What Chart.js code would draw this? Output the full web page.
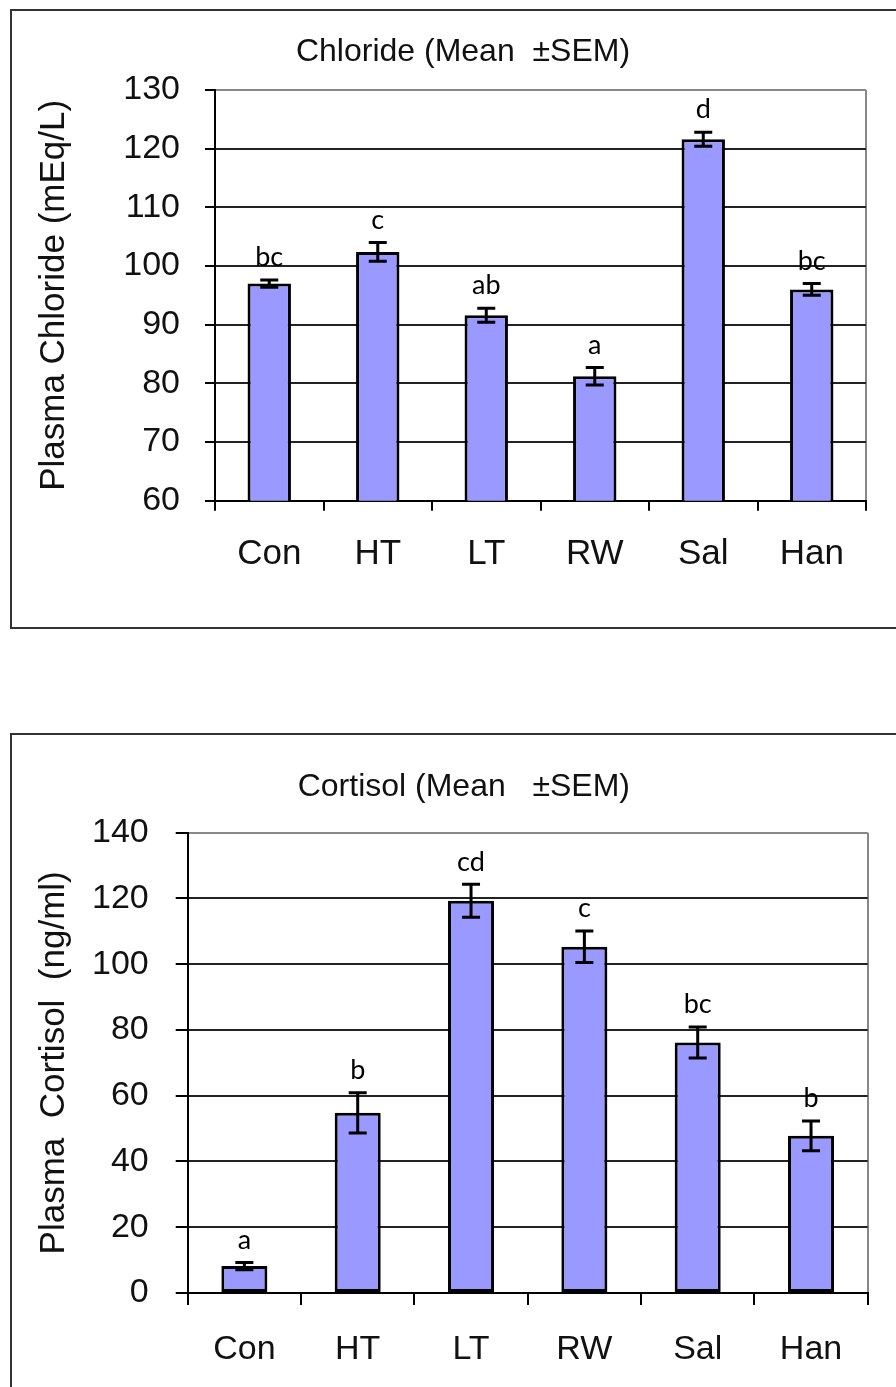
<!DOCTYPE html>
<html>
<head>
<meta charset="utf-8">
<script src="https://cdn.jsdelivr.net/npm/chart.js@4.4.0/dist/chart.umd.min.js"></script>
<style>
  body { margin: 0; width: 896px; height: 1387px; background: #fff; overflow: hidden; position: relative; }
  .frame { position: absolute; left: 10px; width: 920px; border: 2px solid #333; box-sizing: border-box; }
  #frame1 { top: 9px; height: 620px; }
  #frame2 { top: 733px; height: 720px; }
  canvas { position: absolute; left: 0; }
  #chloride { top: 0; }
  #cortisol { top: 700px; }
</style>
</head>
<body>
<div class="frame" id="frame1"></div>
<div class="frame" id="frame2"></div>
<canvas id="chloride" width="896" height="640"></canvas>
<canvas id="cortisol" width="896" height="687"></canvas>
<script>
// groups on the x axis (same for both panels)
const categories = ['Con', 'HT', 'LT', 'RW', 'Sal', 'Han'];

// plasma chloride, mEq/L
const chlorideMean = [97.0, 102.4, 91.6, 81.2, 121.6, 96.0];
const chlorideSem = [0.6, 1.6, 1.2, 1.5, 1.2, 1.0];
const chlorideLetters = ['bc', 'c', 'ab', 'a', 'd', 'bc'];
const chlorideAxis = [60, 130, 10]; // min, max, step

// plasma cortisol, ng/ml
const cortisolMean = [8.2, 54.8, 119.3, 105.3, 76.2, 47.8];
const cortisolSem = [1.1, 6.1, 5.0, 4.8, 4.7, 4.5];
const cortisolLetters = ['a', 'b', 'cd', 'c', 'bc', 'b'];
const cortisolAxis = [0, 140, 20];

Chart.defaults.font.family = "'Liberation Sans', Arial, sans-serif";
Chart.defaults.color = '#111';

// draws the +/- SEM whiskers and the significance letters over each bar
const errorBars = {
    id: 'errorBars',
    afterDatasetsDraw(chart, args, opts) {
        const ctx = chart.ctx;
        const y = chart.scales.y;
        const vals = chart.data.datasets[0].data;
        const bars = chart.getDatasetMeta(0).data;
        ctx.save();
        ctx.strokeStyle = '#000';
        ctx.lineWidth = 3;
        ctx.fillStyle = '#000';
        ctx.font = opts.letterSize + "px Lato, 'Open Sans', sans-serif";
        ctx.textAlign = 'center';
        ctx.textBaseline = 'bottom';
        bars.forEach((bar, i) => {
            const top = y.getPixelForValue(vals[i] + opts.sem[i]);
            const bot = y.getPixelForValue(vals[i] - opts.sem[i]);
            ctx.beginPath();
            ctx.moveTo(bar.x, top);
            ctx.lineTo(bar.x, bot);
            ctx.moveTo(bar.x - 9, top);
            ctx.lineTo(bar.x + 9, top);
            ctx.moveTo(bar.x - 9, bot);
            ctx.lineTo(bar.x + 9, bot);
            ctx.stroke();
            ctx.fillText(opts.letters[i], bar.x, top - opts.gap);
        });
        ctx.restore();
    }
};

function makeChart(id, p) {
    const yMax = p.axis[1];
    return new Chart(id, {
        type: 'bar',
        data: {
            labels: categories,
            datasets: [{
                data: p.mean,
                backgroundColor: '#9999ff',
                borderColor: '#000',
                borderWidth: 3,
                borderSkipped: false,
                categoryPercentage: 1,
                barPercentage: p.barPct
            }]
        },
        options: {
            responsive: false,
            animation: false,
            // extra left padding only nudges the centred title to the right
            layout: { padding: { left: 60, right: p.padRight, top: 0, bottom: 0 } },
            plugins: {
                legend: { display: false },
                tooltip: { enabled: false },
                title: {
                    display: true,
                    text: p.title,
                    color: '#111',
                    font: { size: 32, weight: 'normal' },
                    padding: { top: p.titleTop, bottom: p.titleBottom }
                },
                errorBars: { sem: p.sem, letters: p.letters, letterSize: 27, gap: 9 }
            },
            scales: {
                x: {
                    afterFit: s => { s.height = p.xHeight; },
                    grid: {
                        drawOnChartArea: true,
                        lineWidth: 2,
                        tickLength: p.tickLen,
                        tickColor: '#000',
                        color: c => c.type === 'scale' ? '#888' : 'rgba(0,0,0,0)'
                    },
                    border: { color: '#000', width: 2 },
                    ticks: { font: { size: p.xFont }, padding: p.xPad, color: '#111' }
                },
                y: {
                    min: p.axis[0],
                    max: yMax,
                    afterFit: s => { s.width = p.yWidth; },
                    grid: {
                        lineWidth: 2,
                        tickLength: p.tickLen,
                        tickColor: '#000',
                        color: c => (c.tick && c.tick.value === yMax) ? '#888' : '#222'
                    },
                    border: { color: '#000', width: 2 },
                    ticks: { stepSize: p.axis[2], font: { size: p.yFont }, padding: p.yPad, color: '#111' },
                    title: {
                        display: true,
                        text: p.yTitle,
                        color: '#111',
                        font: { size: p.yTitleFont },
                        padding: { top: p.yTitlePad, bottom: 0 }
                    }
                }
            }
        },
        plugins: [errorBars]
    });
}

makeChart('chloride', {
    title: 'Chloride (Mean  \u00b1SEM)',
    yTitle: 'Plasma Chloride (mEq/L)',
    mean: chlorideMean, sem: chlorideSem, letters: chlorideLetters, axis: chlorideAxis,
    barPct: 0.4, padRight: 30, titleTop: 33, titleBottom: 18.6,
    xHeight: 139.3, yWidth: 155, tickLen: 10,
    xFont: 35, xPad: 23, yFont: 34, yPad: 25, yTitleFont: 35, yTitlePad: -27
});

makeChart('cortisol', {
    title: 'Cortisol (Mean   \u00b1SEM)',
    yTitle: 'Plasma  Cortisol  (ng/ml)',
    mean: cortisolMean, sem: cortisolSem, letters: cortisolLetters, axis: cortisolAxis,
    barPct: 0.406, padRight: 28.3, titleTop: 67.8, titleBottom: 26.5,
    xHeight: 94, yWidth: 127.7, tickLen: 12,
    xFont: 34, xPad: 24, yFont: 34, yPad: 27, yTitleFont: 35, yTitlePad: -27
});
</script>
</body>
</html>
